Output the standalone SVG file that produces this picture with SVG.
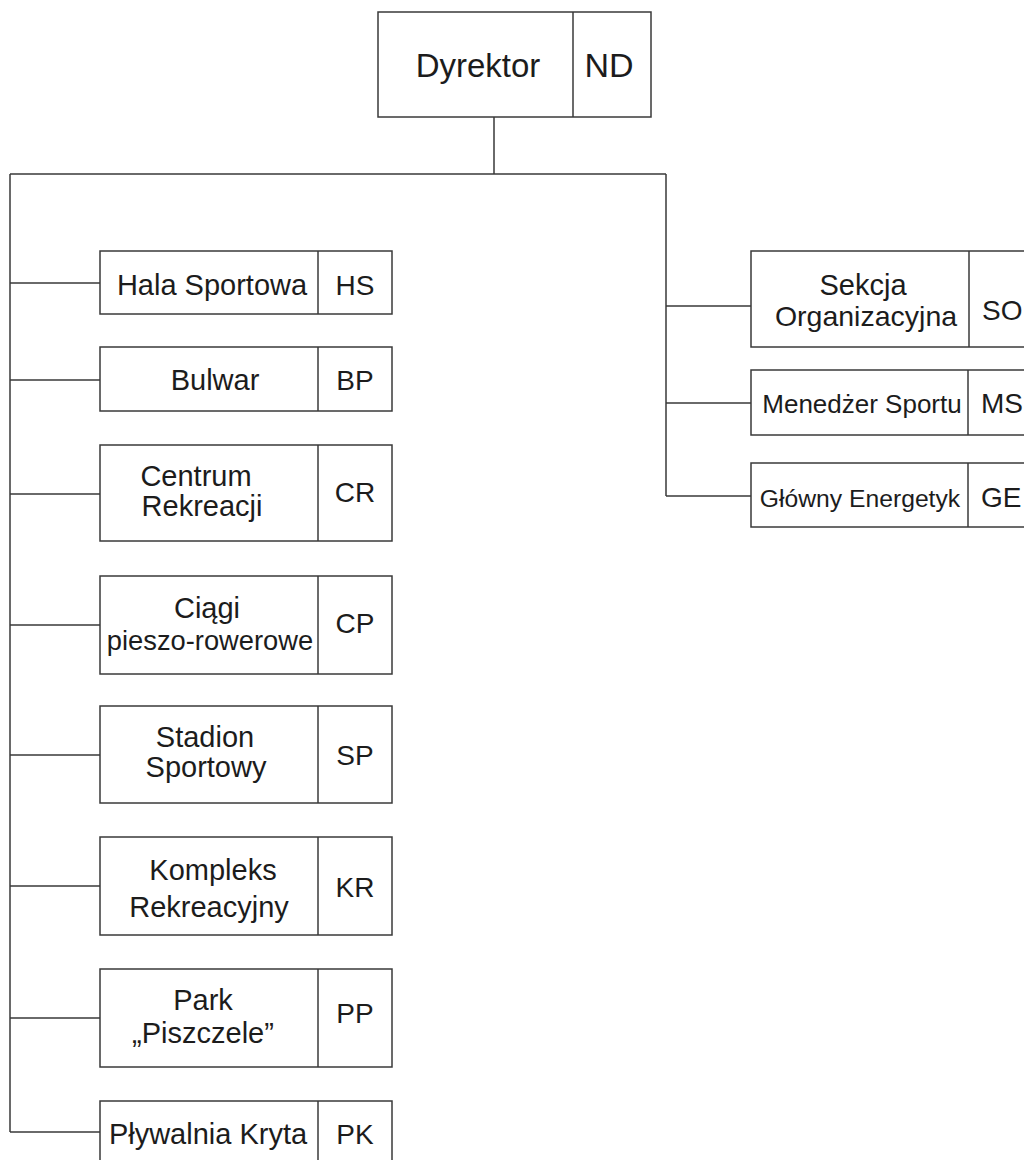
<svg xmlns="http://www.w3.org/2000/svg" width="1024" height="1160" viewBox="0 0 1024 1160">
<style>
.box{fill:#ffffff;stroke:#3a3a3a;stroke-width:1.5}
.div{stroke:#3a3a3a;stroke-width:1.5}
.con{fill:none;stroke:#3a3a3a;stroke-width:1.5}
text{font-family:"Liberation Sans",Arial,sans-serif;fill:#1c1c1c;text-anchor:middle}
.l{font-size:29px}
.c{font-size:28px}
</style>
<rect width="1024" height="1160" fill="#ffffff"/>
<g id="connectors">
<path class="con" d="M494 117V174M10 174H666M10 174V1132M666 174V496"/>
<path class="con" d="M10 283H100M10 380H100M10 494H100M10 625H100M10 755H100M10 886H100M10 1018H100M10 1132H100"/>
<path class="con" d="M666 306H751M666 403H751M666 496H751"/>
</g>
<g id="ND">
<rect class="box" x="378" y="12" width="273" height="105"/>
<line class="div" x1="573" y1="12" x2="573" y2="117"/>
<text x="478" y="77" style="font-size:33px">Dyrektor</text>
<text x="609" y="77" style="font-size:34px">ND</text>
</g>
<g id="HS">
<rect class="box" x="100" y="251" width="292" height="63"/>
<line class="div" x1="318" y1="251" x2="318" y2="314"/>
<text class="l" x="212" y="295">Hala Sportowa</text>
<text class="c" x="355" y="295">HS</text>
</g>
<g id="BP">
<rect class="box" x="100" y="347" width="292" height="64"/>
<line class="div" x1="318" y1="347" x2="318" y2="411"/>
<text class="l" x="215" y="390">Bulwar</text>
<text class="c" x="355" y="390">BP</text>
</g>
<g id="CR">
<rect class="box" x="100" y="445" width="292" height="96"/>
<line class="div" x1="318" y1="445" x2="318" y2="541"/>
<text class="l" x="196" y="486">Centrum</text>
<text class="l" x="202" y="516">Rekreacji</text>
<text class="c" x="355" y="502">CR</text>
</g>
<g id="CP">
<rect class="box" x="100" y="576" width="292" height="98"/>
<line class="div" x1="318" y1="576" x2="318" y2="674"/>
<text class="l" x="207" y="618">Ciągi</text>
<text class="l" x="210" y="650" style="font-size:27.3px">pieszo-rowerowe</text>
<text class="c" x="355" y="633">CP</text>
</g>
<g id="SP">
<rect class="box" x="100" y="706" width="292" height="97"/>
<line class="div" x1="318" y1="706" x2="318" y2="803"/>
<text class="l" x="205" y="747">Stadion</text>
<text class="l" x="206" y="777">Sportowy</text>
<text class="c" x="355" y="765">SP</text>
</g>
<g id="KR">
<rect class="box" x="100" y="837" width="292" height="98"/>
<line class="div" x1="318" y1="837" x2="318" y2="935"/>
<text class="l" x="213" y="880">Kompleks</text>
<text class="l" x="209" y="917">Rekreacyjny</text>
<text class="c" x="355" y="897">KR</text>
</g>
<g id="PP">
<rect class="box" x="100" y="969" width="292" height="98"/>
<line class="div" x1="318" y1="969" x2="318" y2="1067"/>
<text class="l" x="203" y="1010">Park</text>
<text class="l" x="203" y="1043">„Piszczele”</text>
<text class="c" x="355" y="1023">PP</text>
</g>
<g id="PK">
<rect class="box" x="100" y="1101" width="292" height="80"/>
<line class="div" x1="318" y1="1101" x2="318" y2="1181"/>
<text class="l" x="208" y="1144">Pływalnia Kryta</text>
<text class="c" x="355" y="1144">PK</text>
</g>
<g id="SO">
<rect class="box" x="751" y="251" width="300" height="96"/>
<line class="div" x1="969" y1="251" x2="969" y2="347"/>
<text class="l" x="863" y="295">Sekcja</text>
<text class="l" x="866" y="326" style="font-size:28.5px">Organizacyjna</text>
<text class="c" x="982" y="320" style="text-anchor:start">SO</text>
</g>
<g id="MS">
<rect class="box" x="751" y="370" width="300" height="65"/>
<line class="div" x1="968" y1="370" x2="968" y2="435"/>
<text x="862" y="413" style="font-size:26px">Menedżer Sportu</text>
<text class="c" x="981" y="413" style="text-anchor:start">MS</text>
</g>
<g id="GE">
<rect class="box" x="751" y="463" width="300" height="64"/>
<line class="div" x1="968" y1="463" x2="968" y2="527"/>
<text x="860" y="507" style="font-size:24.7px">Główny Energetyk</text>
<text class="c" x="981" y="507" style="text-anchor:start">GE</text>
</g>
</svg>
